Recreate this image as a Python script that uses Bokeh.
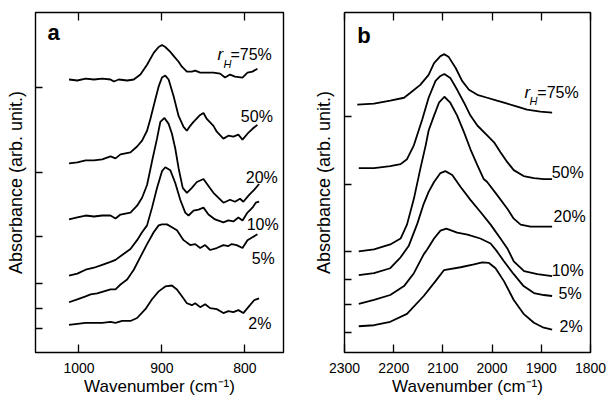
from bokeh.plotting import figure
from bokeh.models import Range1d, FixedTicker, LinearAxis, CustomJSTickFormatter, Label
from bokeh.layouts import row
from bokeh.embed import file_html
from bokeh.resources import INLINE

FONT = "Liberation Sans"

# ---------------- panel a : 1050-750 cm-1 region ----------------
a_ticks_x = [1000, 900, 800]
a_baselines = [2.69, 1.83, 1.18, 0.70, 0.45, 0.24]
a_series = ["75%", "50%", "20%", "10%", "5%", "2%"]

a_wn_75 = [1012, 1002, 992, 982, 972, 962, 958, 952, 942, 934, 926, 918, 910, 904, 900, 896, 890, 884, 880, 876,
           870, 864, 860, 854, 846, 838, 830, 824, 818, 812, 803, 797, 791, 785]
a_ab_75 = [2.77, 2.76, 2.78, 2.77, 2.78, 2.77, 2.75, 2.77, 2.76, 2.77, 2.82, 2.92, 3.04, 3.10, 3.12, 3.10, 3.05, 2.99,
           2.95, 2.90, 2.85, 2.85, 2.86, 2.84, 2.84, 2.84, 2.83, 2.79, 2.82, 2.80, 2.79, 2.84, 2.85, 2.88]

a_wn_50 = [1012, 1002, 992, 982, 972, 962, 956, 950, 938, 930, 924, 918, 914, 908, 904, 900, 896, 892, 886, 880,
           874, 870, 866, 862, 854, 850, 846, 838, 834, 826, 820, 814, 808, 803, 797, 791, 785]
a_ab_50 = [1.92, 1.93, 1.95, 1.95, 1.96, 1.99, 1.97, 2.01, 2.03, 2.09, 2.15, 2.25, 2.37, 2.57, 2.70, 2.79, 2.81, 2.77,
           2.60, 2.40, 2.29, 2.25, 2.30, 2.34, 2.41, 2.43, 2.37, 2.30, 2.24, 2.17, 2.20, 2.19, 2.21, 2.16, 2.22, 2.27, 2.31]

a_wn_20 = [1012, 1002, 992, 982, 972, 962, 956, 950, 938, 930, 924, 918, 912, 906, 902, 897, 892, 888, 884, 880,
           875, 870, 864, 858, 850, 844, 838, 826, 818, 812, 806, 802, 795, 789, 783]
a_ab_20 = [1.35, 1.37, 1.39, 1.38, 1.39, 1.39, 1.36, 1.40, 1.42, 1.49, 1.57, 1.70, 1.94, 2.17, 2.34, 2.38, 2.32, 2.22,
           2.07, 1.87, 1.67, 1.62, 1.67, 1.73, 1.76, 1.69, 1.62, 1.52, 1.55, 1.53, 1.56, 1.53, 1.60, 1.65, 1.71]

a_wn_10 = [1012, 1002, 992, 982, 972, 962, 956, 948, 938, 930, 924, 918, 912, 906, 900, 896, 890, 884, 878, 872,
           868, 862, 856, 850, 844, 836, 826, 820, 814, 808, 803, 797, 791, 787, 783]
a_ab_10 = [0.78, 0.80, 0.84, 0.86, 0.89, 0.92, 0.94, 0.99, 1.05, 1.14, 1.22, 1.29, 1.47, 1.67, 1.84, 1.88, 1.85, 1.72,
           1.55, 1.42, 1.39, 1.44, 1.45, 1.47, 1.40, 1.35, 1.32, 1.34, 1.33, 1.37, 1.34, 1.42, 1.47, 1.52, 1.53]

a_wn_5 = [1012, 1002, 992, 986, 978, 970, 962, 956, 950, 942, 934, 926, 918, 910, 904, 900, 894, 888, 882, 874,
          866, 860, 854, 848, 842, 834, 826, 820, 816, 810, 803, 797, 791, 785]
a_ab_5 = [0.51, 0.54, 0.57, 0.59, 0.60, 0.62, 0.64, 0.64, 0.69, 0.74, 0.84, 0.97, 1.10, 1.22, 1.29, 1.30, 1.30, 1.27,
          1.24, 1.14, 1.09, 1.10, 1.06, 1.09, 1.04, 1.06, 1.09, 1.08, 1.10, 1.09, 1.06, 1.14, 1.17, 1.20]

a_wn_2 = [1012, 1002, 992, 982, 972, 962, 956, 948, 938, 930, 920, 912, 904, 896, 888, 882, 876, 870, 864, 860,
          854, 848, 842, 834, 826, 820, 814, 808, 802, 795, 789, 783]
a_ab_2 = [0.28, 0.29, 0.30, 0.30, 0.30, 0.31, 0.30, 0.32, 0.32, 0.35, 0.44, 0.54, 0.62, 0.67, 0.68, 0.64, 0.57, 0.50,
          0.48, 0.50, 0.46, 0.49, 0.45, 0.44, 0.40, 0.42, 0.41, 0.43, 0.40, 0.47, 0.53, 0.55]

# ---------------- panel b : 2300-1800 cm-1 region ----------------
b_ticks_x = [2300, 2200, 2100, 2000, 1900, 1800]
b_baselines = [2.38, 1.69, 1.02, 0.74, 0.48, 0.20]

b_wn_75 = [2274, 2240, 2207, 2179, 2166, 2146, 2129, 2118, 2105, 2097, 2088, 2074, 2061, 2047, 2030, 2010, 1990,
           1969, 1949, 1929, 1902, 1878]
b_ab_75 = [2.50, 2.51, 2.54, 2.57, 2.62, 2.70, 2.80, 2.92, 2.99, 3.01, 2.98, 2.87, 2.74, 2.65, 2.60, 2.57, 2.54,
           2.51, 2.48, 2.45, 2.43, 2.42]

b_wn_50 = [2271, 2240, 2207, 2186, 2173, 2159, 2142, 2129, 2115, 2105, 2097, 2085, 2071, 2057, 2044, 2030, 2010,
           1996, 1983, 1969, 1956, 1936, 1915, 1895, 1878]
b_ab_50 = [1.86, 1.86, 1.88, 1.90, 1.95, 2.09, 2.35, 2.57, 2.74, 2.79, 2.81, 2.77, 2.65, 2.52, 2.39, 2.29, 2.19,
           2.12, 2.02, 1.92, 1.84, 1.78, 1.76, 1.75, 1.75]

b_wn_20 = [2271, 2240, 2207, 2186, 2173, 2159, 2146, 2135, 2129, 2118, 2108, 2097, 2085, 2071, 2057, 2044, 2030,
           2017, 2010, 1990, 1969, 1956, 1942, 1922, 1902, 1878]
b_ab_20 = [1.02, 1.04, 1.09, 1.15, 1.29, 1.55, 1.85, 2.09, 2.24, 2.39, 2.52, 2.58, 2.52, 2.39, 2.22, 2.05, 1.89,
           1.75, 1.72, 1.59, 1.45, 1.35, 1.29, 1.27, 1.27, 1.27]

b_wn_10 = [2271, 2240, 2207, 2186, 2169, 2152, 2139, 2129, 2118, 2105, 2095, 2081, 2064, 2044, 2024, 2003, 1983,
           1969, 1956, 1935, 1908, 1878]
b_ab_10 = [0.78, 0.80, 0.85, 0.96, 1.08, 1.30, 1.50, 1.62, 1.72, 1.81, 1.83, 1.79, 1.67, 1.54, 1.42, 1.29, 1.15,
           1.05, 0.92, 0.82, 0.79, 0.77]

b_wn_5 = [2271, 2240, 2207, 2179, 2159, 2139, 2132, 2118, 2105, 2093, 2071, 2050, 2024, 2003, 1990, 1976, 1956,
          1936, 1915, 1895, 1878]
b_ab_5 = [0.49, 0.53, 0.58, 0.67, 0.80, 0.99, 1.04, 1.15, 1.23, 1.25, 1.21, 1.19, 1.15, 1.10, 1.02, 0.92, 0.79,
          0.67, 0.60, 0.58, 0.57]

b_wn_2 = [2271, 2240, 2207, 2173, 2139, 2115, 2098, 2064, 2037, 2020, 2007, 1993, 1976, 1956, 1936, 1915, 1895, 1878]
b_ab_2 = [0.265, 0.275, 0.31, 0.39, 0.57, 0.72, 0.83, 0.86, 0.89, 0.91, 0.905, 0.85, 0.72, 0.53, 0.39, 0.30,
          0.25, 0.23]

a_curves = [(a_wn_75, a_ab_75), (a_wn_50, a_ab_50), (a_wn_20, a_ab_20),
            (a_wn_10, a_ab_10), (a_wn_5, a_ab_5), (a_wn_2, a_ab_2)]
b_curves = [(b_wn_75, b_ab_75), (b_wn_50, b_ab_50), (b_wn_20, b_ab_20),
            (b_wn_10, b_ab_10), (b_wn_5, b_ab_5), (b_wn_2, b_ab_2)]

# label anchor positions (data coords, vertical centre of the text)
a_lab = {"r": (833, 3.02), "H": (826, 2.925), "eq": (817.5, 3.02),
         "50%": (805, 2.39), "20%": (799, 1.78), "10%": (798, 1.30), "5%": (792, 0.95), "2%": (796, 0.29),
         "panel": (1038, 3.25)}
b_lab = {"r": (1934, 2.62), "H": (1924, 2.535), "eq": (1908, 2.62),
         "50%": (1879, 1.82), "20%": (1875, 1.37), "10%": (1879, 0.83), "5%": (1865, 0.60), "2%": (1863, 0.26),
         "panel": (2274, 3.195)}


def make_panel(width, height, xr, yr, borders, curves, xticks, top_ticks, yticks, lab, panel_letter,
               ylab_standoff):
    p = figure(width=width, height=height, x_range=Range1d(*xr), y_range=Range1d(*yr),
               output_backend="svg", toolbar_location=None,
               min_border_left=borders[0], min_border_right=borders[1],
               min_border_top=borders[2], min_border_bottom=borders[3])
    p.background_fill_color = "white"
    p.border_fill_color = "white"
    p.outline_line_color = "black"
    p.outline_line_width = 1.4
    p.grid.visible = False

    xa = p.xaxis[0]
    xa.ticker = FixedTicker(ticks=xticks)
    xa.major_tick_in = 8
    xa.major_tick_out = 0
    xa.minor_tick_in = 0
    xa.minor_tick_out = 0
    xa.axis_line_color = None
    xa.major_tick_line_color = "black"
    xa.major_tick_line_width = 1.3
    xa.major_label_text_font = FONT
    xa.major_label_text_font_size = "14px"
    xa.major_label_text_color = "black"
    xa.major_label_standoff = 10
    xa.axis_label = "Wavenumber (cm\u207b\u00b9)"
    xa.axis_label_text_font = FONT
    xa.axis_label_text_font_size = "17px"
    xa.axis_label_text_font_style = "normal"
    xa.axis_label_text_color = "black"
    xa.axis_label_standoff = 1

    ya = p.yaxis[0]
    ya.ticker = FixedTicker(ticks=yticks)
    ya.major_tick_in = 7
    ya.major_tick_out = 0
    ya.minor_tick_in = 0
    ya.minor_tick_out = 0
    ya.axis_line_color = None
    ya.major_tick_line_color = "black"
    ya.major_tick_line_width = 1.3
    ya.formatter = CustomJSTickFormatter(code="return ''")
    ya.major_label_standoff = 0
    ya.axis_label = "Absorbance (arb. unit.)"
    ya.axis_label_text_font = FONT
    ya.axis_label_text_font_size = "18px"
    ya.axis_label_text_font_style = "normal"
    ya.axis_label_text_color = "black"
    ya.axis_label_standoff = ylab_standoff

    top = LinearAxis(ticker=FixedTicker(ticks=top_ticks), major_tick_in=8, major_tick_out=0,
                     minor_tick_in=0, minor_tick_out=0, axis_line_color=None,
                     major_tick_line_color="black", major_tick_line_width=1.3,
                     formatter=CustomJSTickFormatter(code="return ''"), major_label_standoff=0)
    p.add_layout(top, "above")

    for wn, ab in curves:
        p.line(wn, ab, line_color="black", line_width=1.8)

    def add(text, pos, size, style="normal"):
        p.add_layout(Label(x=pos[0], y=pos[1], text=text, text_font=FONT, text_font_size=size,
                           text_font_style=style, text_color="black", text_align="left",
                           text_baseline="middle"))

    add("r", lab["r"], "17px", "italic")
    add("H", lab["H"], "11px", "italic")
    add("=75%", lab["eq"], "16px")
    for s in ["50%", "20%", "10%", "5%", "2%"]:
        add(s, lab[s], "16px")
    add(panel_letter, lab["panel"], "22px", "bold")
    return p


p1 = make_panel(300, 411, (1052.4, 753.6), (0, 3.45), (35, 17, 12, 54), a_curves,
                a_ticks_x, a_ticks_x, a_baselines, a_lab, "a", 10)
p2 = make_panel(312, 411, (2300, 1800), (0, 3.43), (44, 22, 9, 59), b_curves,
                b_ticks_x, b_ticks_x, b_baselines, b_lab, "b", 11)

layout = row(p1, p2)
open("out.html", "w").write(file_html(layout, INLINE))
